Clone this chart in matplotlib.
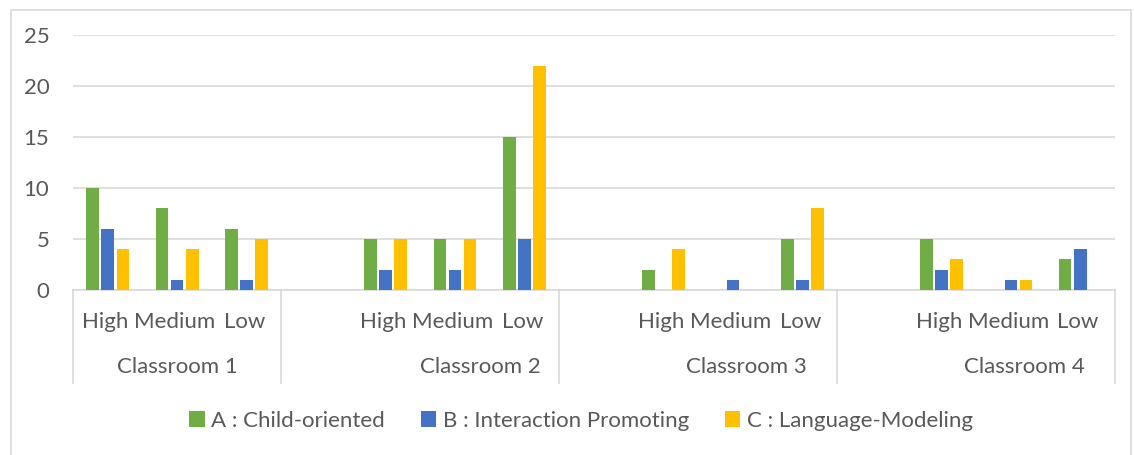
"""Clustered column chart: strategy counts per level for four classrooms."""

import matplotlib.pyplot as plt
import numpy as np
from matplotlib.patches import Rectangle
from matplotlib.transforms import blended_transform_factory

# categories (empty strings are the blank slots Excel left between groups)
levels = ["High", "Medium", "Low",
          "", "High", "Medium", "Low",
          "", "High", "Medium", "Low",
          "", "High", "Medium", "Low"]
classrooms = ["Classroom 1", "Classroom 2", "Classroom 3", "Classroom 4"]
group_sizes = [3, 4, 4, 4]

series_names = ["A : Child-oriented", "B : Interaction Promoting", "C : Language-Modeling"]
child_oriented = [10, 8, 6, 0, 5, 5, 15, 0, 2, 0, 5, 0, 5, 0, 3]
interaction_promoting = [6, 1, 1, 0, 2, 2, 5, 0, 0, 1, 1, 0, 2, 1, 4]
language_modeling = [4, 4, 5, 0, 5, 5, 22, 0, 4, 0, 8, 0, 3, 1, 0]

colors = ["#70ad47", "#4472c4", "#ffc000"]
text_color = "#595959"
grid_color = "#d9d9d9"
fs = 16

plt.rcParams["font.family"] = ["Lato", "DejaVu Sans"]

fig = plt.figure(figsize=(11.34, 4.55), dpi=100)
ax = fig.add_axes([73 / 1134, 1 - 290 / 455, (1115 - 73) / 1134, 255 / 455])

# outer chart border
fig.patches.append(Rectangle((11 / 1134, -0.05), 1120 / 1134, 1.05 - 10 / 455,
                             transform=fig.transFigure, fill=False,
                             edgecolor=grid_color, linewidth=1.2))

x = np.arange(len(levels))
width = 0.18
step = 0.217
all_series = [child_oriented, interaction_promoting, language_modeling]
for i, (vals, name, col) in enumerate(zip(all_series, series_names, colors)):
    ax.bar(x + (i - 1) * step, vals, width=width, color=col, label=name,
           edgecolor="none", zorder=3)

ax.set_xlim(-0.5, len(levels) - 0.5)
ax.set_ylim(0, 25)
ax.set_yticks(range(0, 26, 5))
ax.yaxis.grid(True, color=grid_color, linewidth=1.2, zorder=0)
ax.tick_params(axis="y", length=0, pad=17, labelsize=fs, labelcolor=text_color)
ax.set_xticks([])
for side in ["top", "right", "left"]:
    ax.spines[side].set_visible(False)
ax.spines["bottom"].set_color(grid_color)
ax.spines["bottom"].set_linewidth(1.2)

# multi-level category axis
trans = blended_transform_factory(ax.transData, ax.transAxes)
for xi, lab in zip(x, levels):
    ax.text(xi - 0.03, -32 / 255, lab, transform=trans, ha="center", va="center",
            fontsize=fs, color=text_color)

bounds = np.concatenate([[0], np.cumsum(group_sizes)]) - 0.5
for b in bounds:
    ax.plot([b, b], [0, -93 / 255], transform=trans, color=grid_color,
            linewidth=1.2, clip_on=False)

label_pos = [1.0, 5.36, 9.19, 13.2]
for xp, name in zip(label_pos, classrooms):
    ax.text(xp, -77 / 255, name, transform=trans, ha="center", va="center",
            fontsize=fs, color=text_color)

fig.legend(loc="center", bbox_to_anchor=(581 / 1134, 1 - 421 / 455), ncol=3,
           frameon=False, fontsize=fs, labelcolor=text_color,
           handlelength=0.7, handleheight=0.7, handletextpad=0.3,
           columnspacing=1.6)

fig.savefig("out.png", dpi=100)
